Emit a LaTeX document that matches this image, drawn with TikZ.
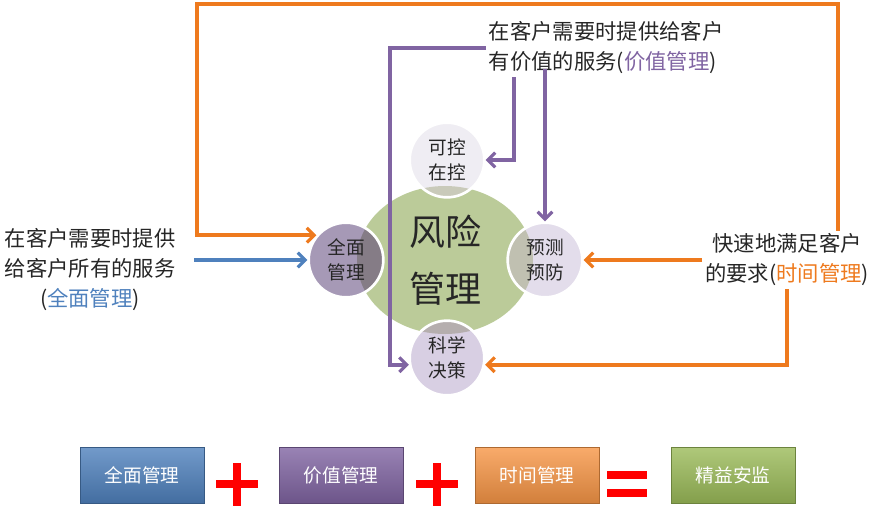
\documentclass[tikz,border=0pt]{standalone}
\usepackage{fontspec}
\setmainfont{Noto Sans CJK SC}
\usetikzlibrary{arrows.meta,shapes.geometric}

\definecolor{riskgreen}{HTML}{BBCB99}
\definecolor{valpurple}{HTML}{8064A2}
\definecolor{timeorange}{HTML}{EE7A1E}
\definecolor{fullblue}{HTML}{4F81BD}
\definecolor{textgray}{HTML}{262626}
\definecolor{tileorange}{HTML}{F79646}
\definecolor{tilegreen}{HTML}{9BBB59}

\begin{document}
\begin{tikzpicture}[x=0.75pt,y=-0.75pt,
  conn/.style={line width=2.8pt, -{Straight Barb[length=5.5pt,width=11pt,line width=2.4pt]}},
  orangeline/.style={conn, timeorange},
  purpleline/.style={conn, valpurple},
  blueline/.style={conn, fullblue},
  ring/.style={circle, draw=white, line width=2pt, minimum size=56pt, inner sep=0pt,
    align=center, text=textgray, font=\fontsize{14}{19}\selectfont},
  note/.style={inner sep=2pt, text=textgray, font=\fontsize{16}{22.5}\selectfont},
  tile/.style={rectangle, minimum width=93pt, minimum height=42pt, text=white,
    font=\fontsize{14}{16}\selectfont, draw=#1!70!black, line width=0.4pt,
    top color=#1!80!white, bottom color=#1!85!black},
  bar/.style={red, line width=5.5pt}]
\useasboundingbox (0,0) rectangle (874,508);

% Risk ellipse
\node[ellipse, fill=riskgreen, minimum width=132pt, minimum height=111pt, inner sep=0pt,
  align=center, text=textgray, font=\fontsize{27}{43}\selectfont] (risk) at (445,260) {风险\\管理};

% Circle centres
\coordinate (cc) at (447,160);
\coordinate (cf) at (346,260);
\coordinate (cp) at (545,260);
\coordinate (cd) at (447,358);

% Circle fills
\fill[fill={rgb,255:red,239;green,237;blue,243}] (cc) circle (28pt);
\fill[fill={rgb,255:red,166;green,153;blue,182}] (cf) circle (28pt);
\fill[fill={rgb,255:red,227;green,221;blue,235}] (cp) circle (28pt);
\fill[fill={rgb,255:red,216;green,207;blue,227}] (cd) circle (28pt);

% Overlap with the ellipse
\begin{scope}
  \clip (risk.center) ellipse (66pt and 55.5pt);
  \fill[fill={rgb,255:red,201;green,202;blue,186}] (cc) circle (28pt);
  \fill[fill={rgb,255:red,133;green,124;blue,134}] (cf) circle (28pt);
  \fill[fill={rgb,255:red,192;green,192;blue,177}] (cp) circle (28pt);
  \fill[fill={rgb,255:red,181;green,174;blue,174}] (cd) circle (28pt);
\end{scope}

% Circle nodes
\node[ring] (control) at (cc) {可控\\在控};
\node[ring] (full) at (cf) {全面\\管理};
\node[ring] (predict) at (cp) {预测\\预防};
\node[ring] (decide) at (cd) {科学\\决策};

% Texts
\node[note, anchor=west, align=left] (valtext) at (486,48)
  {在客户需要时提供给客户\\有价值的服务(\textcolor{valpurple}{价值管理})};
\node[note, align=center] (fulltext) at (90,270)
  {在客户需要时提供\\给客户所有的服务\\(\textcolor{fullblue}{全面管理})};
\node[note, align=center] (timetext) at (787,260)
  {快速地满足客户\\的要求(\textcolor{timeorange}{时间管理})};

% Corners
\coordinate (loopNE) at (838,4);
\coordinate (loopNW) at (197,4);
\coordinate (valcorner) at (390,48);
\coordinate (valdrop) at (514,0);

% Orange connectors
\draw[orangeline] (timetext.north -| loopNE) -- (loopNE) -- (loopNW) |- (full.140);
\draw[orangeline] (timetext.west) -- (predict.east);
\draw[orangeline] (timetext.south) |- (decide.-10);

% Blue connector
\draw[blueline, shorten <=12pt] (fulltext.east |- full.west) -- (full.west);

% Purple connectors
\draw[purpleline] (valtext.west) -- (valcorner) |- (decide.190);
\draw[purpleline] (valtext.south -| valdrop) |- (control.east);
\draw[purpleline, shorten <=-6pt] (valtext.south -| predict.north) -- (predict.north);

% Bottom row
\node[tile=fullblue] (tfull) at (142,475) {全面管理};
\node[tile=valpurple] (tval) at (341,475) {价值管理};
\node[tile=tileorange] (ttime) at (537,475) {时间管理};
\node[tile=tilegreen] (tsafe) at (733,475) {精益安监};

% Plus and equals signs
\foreach \x in {237,437} {
  \draw[bar] (\x-21,484) -- (\x+21,484);
  \draw[bar] (\x,463) -- (\x,506);
}
\draw[bar] (607,475) -- (647,475);
\draw[bar] (607,493) -- (647,493);

\end{tikzpicture}
\end{document}
